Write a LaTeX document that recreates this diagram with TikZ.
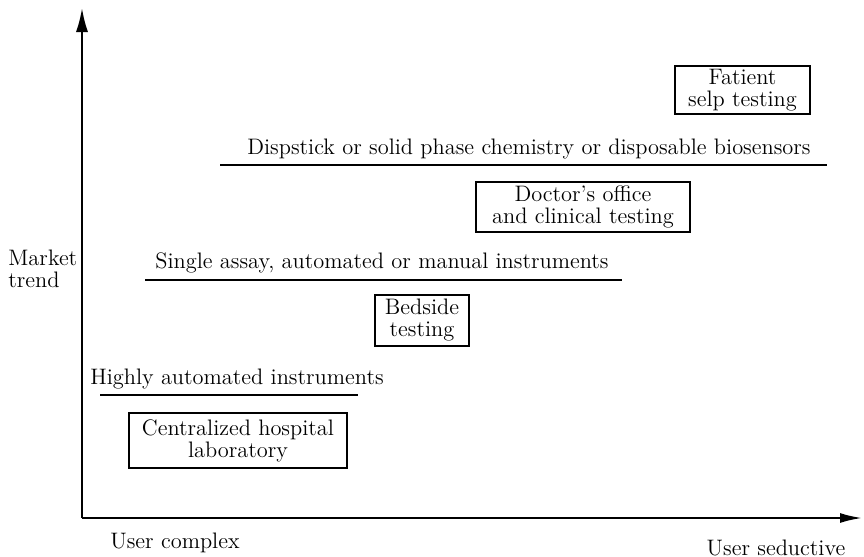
\documentclass[tikz,border=0pt]{standalone}
\usetikzlibrary{arrows.meta}
\begin{document}
\begin{tikzpicture}[x=0.5pt,y=-0.5pt,
  every node/.style={font=\fontsize{11.2}{11}\selectfont, inner sep=0pt},
  box/.style={draw, line width=0.7pt, align=center},
  lbl/.style={align=center},
  uline/.style={line width=0.9pt},
  axis/.style={line width=1pt}]
\useasboundingbox (0,0) rectangle (864,557);
% axes
\coordinate (O) at (82,518);
\coordinate (Ytop) at (82,8);
\coordinate (Xend) at (862,518);
\draw[axis, -{Latex[length=12pt,width=6pt]}] (O) -- (Ytop);
\draw[axis, -{Latex[length=11pt,width=5pt]}] (O) -- (Xend);
% axis labels
\node[align=left, anchor=west] (mt) at (8,269) {Market\\trend};
\node (uc) at (175,543) {User complex};
\node (us) at (776,548) {User seductive};
% boxes
\node[box, minimum width=67.5pt, minimum height=24pt] (pat) at (742.5,90) {Fatient\\selp testing};
\node[box, minimum width=107pt, minimum height=25pt] (doc) at (583,207) {Doctor's office\\and clinical testing};
\node[box, minimum width=47pt, minimum height=25.5pt] (bed) at (422,320.5) {Bedside\\testing};
\node[box, minimum width=109pt, minimum height=27.5pt] (cen) at (238,440.5) {Centralized hospital\\laboratory};
% underlined labels
\node[lbl] (dip) at (529,149) {Dispstick or solid phase chemistry or disposable biosensors};
\coordinate (dipA) at (220,165); \coordinate (dipB) at (827,165);
\draw[uline] (dipA) -- (dipB);
\node[lbl] (sing) at (382,263) {Single assay, automated or manual instruments};
\coordinate (singA) at (145,280); \coordinate (singB) at (622,280);
\draw[uline] (singA) -- (singB);
\node[lbl] (high) at (237,379) {Highly automated instruments};
\coordinate (highA) at (100,395); \coordinate (highB) at (358,395);
\draw[uline] (highA) -- (highB);
\end{tikzpicture}
\end{document}
